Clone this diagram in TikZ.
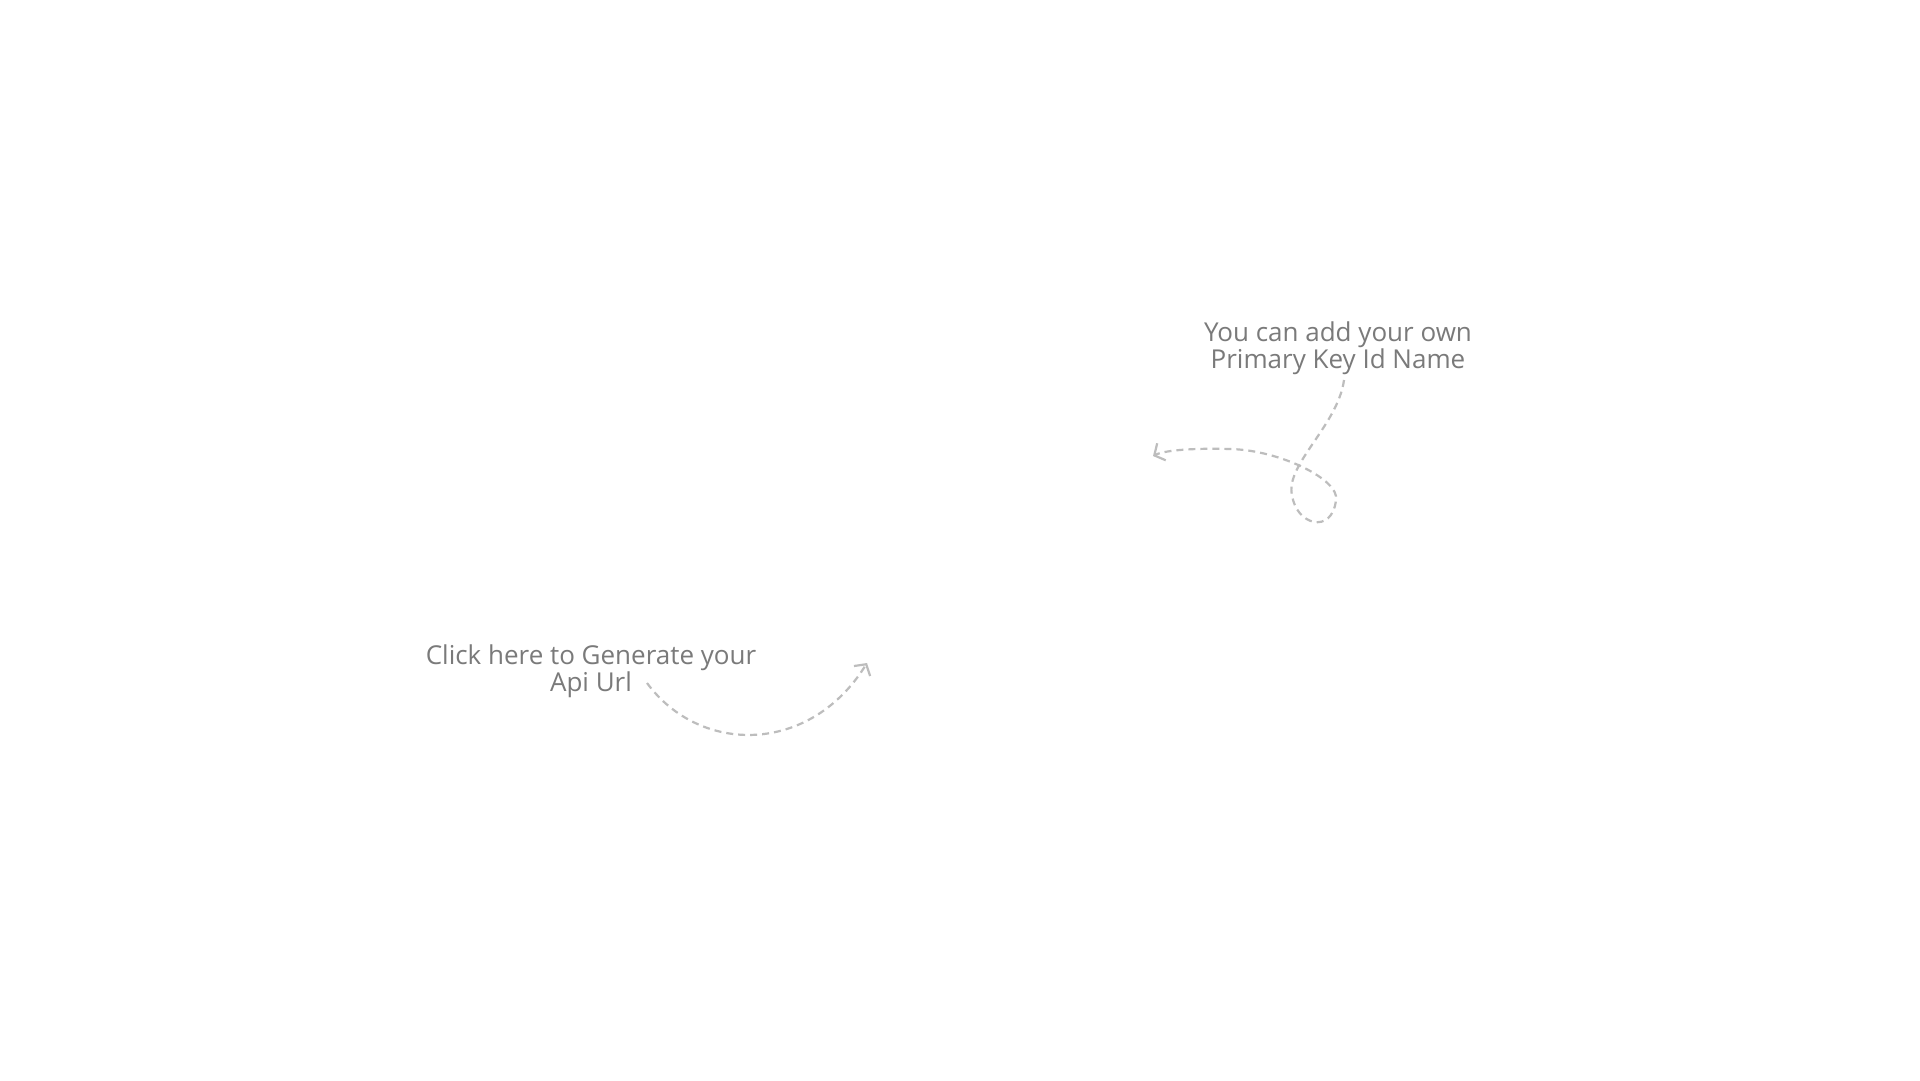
\documentclass[tikz,border=0pt]{standalone}
\usepackage{fontspec}
\setmainfont{Open Sans}
\usetikzlibrary{arrows.meta}
\definecolor{notetext}{HTML}{7A7A7A}
\definecolor{noteline}{HTML}{BDBDBD}
\tikzset{
  note/.style={font=\fontsize{26}{25.5}\selectfont, text=notetext, align=center, inner sep=0pt, anchor=base},
  curly/.style={draw=noteline, line width=2.2pt, dash pattern=on 7pt off 5pt, line cap=butt,
    -{Straight Barb[length=8pt,width=19pt,line width=2.2pt]}}
}
\begin{document}
\begin{tikzpicture}[x=1pt,y=-1pt]
\useasboundingbox[fill=white] (0,0) rectangle (1920,1080);
\node[note] (t1) at (1338,368) {You can add your own\\Primary Key Id Name};
\node[note] (t2) at (591,691) {Click here to Generate your\\Api Url};
\coordinate (s1) at (1344,380);
\coordinate (e1) at (1153,456);
\coordinate (s2) at (647,683);
\coordinate (e2) at (867,663);
\draw[curly] (s1) .. controls (1338,425) and (1285,465) .. (1292,495)
  .. controls (1296,525) and (1332,535) .. (1336,500)
  .. controls (1340,480) and (1280,450) .. (1230,449)
  .. controls (1195,448) and (1165,450) .. (e1);
\draw[curly] (s2) .. controls (700,755) and (810,755) .. (e2);
\end{tikzpicture}
\end{document}
